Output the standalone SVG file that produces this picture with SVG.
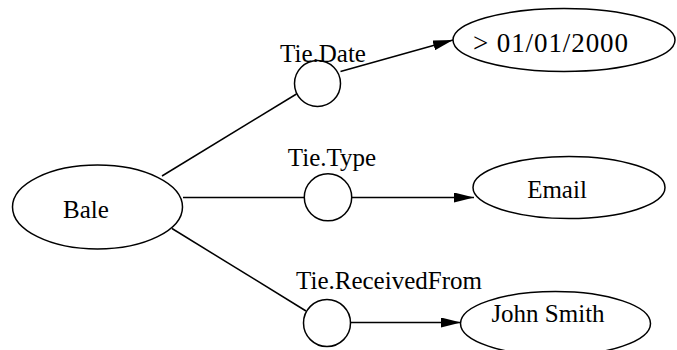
<svg xmlns="http://www.w3.org/2000/svg" width="677" height="350" viewBox="0 0 677 350">
<style>
.n{fill:#fff;stroke:#000;stroke-width:1.5}
.t{font-family:"Liberation Serif","Times New Roman",serif;font-size:25px;fill:#000}
.e{stroke:#000;stroke-width:1.5;fill:none}
</style>
<defs>
<marker id="ah" markerUnits="userSpaceOnUse" markerWidth="20" markerHeight="10" refX="20" refY="5" orient="auto">
<path d="M0,0 L20,5 L0,10 z" fill="#000"/>
</marker>
</defs>
<rect width="677" height="350" fill="#fff"/>
<g id="connectors">
<line class="e" x1="162" y1="176" x2="296.5" y2="94"/>
<line class="e" x1="340.5" y1="71.5" x2="453" y2="40" marker-end="url(#ah)"/>
<line class="e" x1="183" y1="197.5" x2="304.5" y2="197.5"/>
<line class="e" x1="351.5" y1="197.5" x2="474" y2="197.5" marker-end="url(#ah)"/>
<line class="e" x1="172" y1="228.5" x2="306" y2="311"/>
<line class="e" x1="351" y1="322.5" x2="461" y2="322.5" marker-end="url(#ah)"/>
</g>
<g id="bale">
<ellipse class="n" cx="97.5" cy="207" rx="85" ry="42"/>
<text class="t" x="86" y="218" text-anchor="middle">Bale</text>
</g>
<g id="tie-date">
<ellipse class="n" cx="317.5" cy="83.5" rx="23" ry="23"/>
<text class="t" x="323" y="61.5" text-anchor="middle">Tie.Date</text>
</g>
<g id="date-value">
<ellipse class="n" cx="564" cy="40" rx="111" ry="31.5"/>
<text class="t" x="473" y="51.5" style="font-size:27px" textLength="155" lengthAdjust="spacing">&gt; 01/01/2000</text>
</g>
<g id="tie-type">
<ellipse class="n" cx="328" cy="197.3" rx="23.7" ry="23.5"/>
<text class="t" x="332" y="166" text-anchor="middle">Tie.Type</text>
</g>
<g id="email">
<ellipse class="n" cx="569" cy="187.5" rx="96" ry="31"/>
<text class="t" x="557" y="198.3" text-anchor="middle">Email</text>
</g>
<g id="tie-receivedfrom">
<ellipse class="n" cx="327" cy="323" rx="23.5" ry="23.5"/>
<text class="t" x="389" y="289" text-anchor="middle">Tie.ReceivedFrom</text>
</g>
<g id="john-smith">
<ellipse class="n" cx="555.5" cy="323.5" rx="95" ry="32"/>
<text class="t" x="548" y="322" text-anchor="middle">John Smith</text>
</g>
</svg>
